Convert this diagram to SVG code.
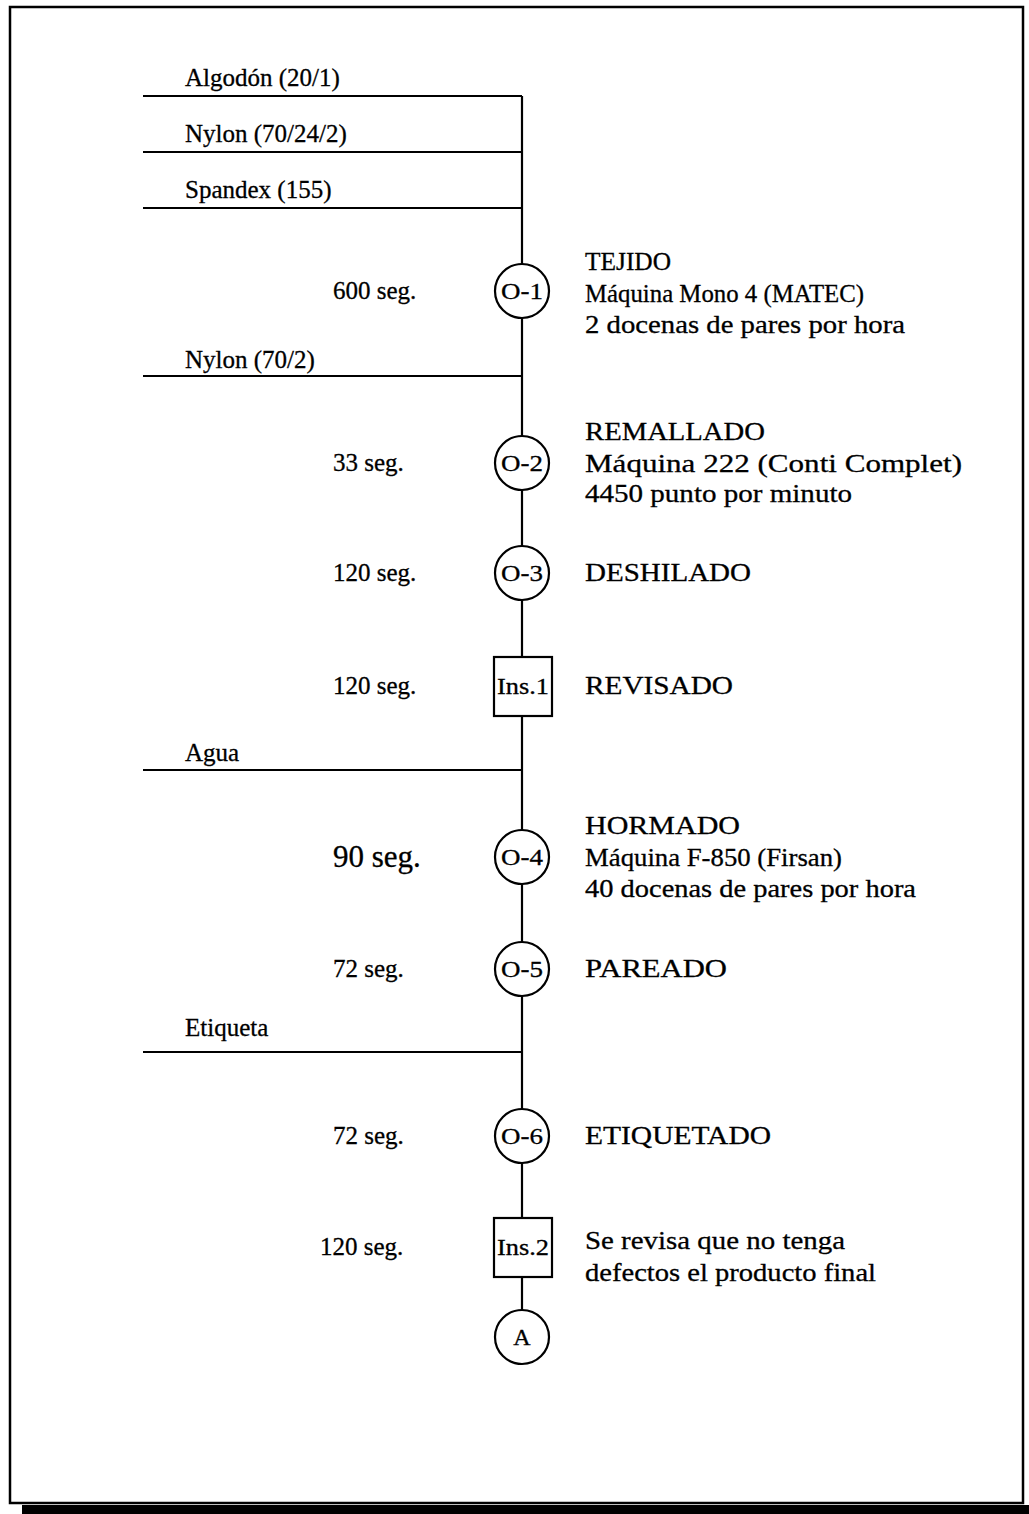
<svg xmlns="http://www.w3.org/2000/svg" width="1029" height="1514" viewBox="0 0 1029 1514">
<style>
text{font-family:"Liberation Serif","Times New Roman",serif;font-size:25px;fill:#000;stroke:#000;stroke-width:0.3}
.r{font-size:25.5px}
.ln{stroke:#000;stroke-width:2.2;fill:none}
.sym{stroke:#000;stroke-width:2.2;fill:#fff}
.c{text-anchor:middle;font-size:24px}
</style>
<rect x="0" y="0" width="1029" height="1514" fill="#fff"/>
<g id="frame">
<rect x="10" y="7" width="1013" height="1496" fill="none" stroke="#000" stroke-width="2.5"/>
<rect x="22" y="1505" width="1007" height="9" fill="#000"/>
</g>
<g id="connectors">
<line class="ln" x1="522" y1="96" x2="522" y2="1310"/>
<line class="ln" x1="143" y1="96" x2="522" y2="96"/>
<line class="ln" x1="143" y1="152" x2="522" y2="152"/>
<line class="ln" x1="143" y1="208" x2="522" y2="208"/>
<line class="ln" x1="143" y1="376" x2="522" y2="376"/>
<line class="ln" x1="143" y1="770" x2="522" y2="770"/>
<line class="ln" x1="143" y1="1052" x2="522" y2="1052"/>
</g>
<g id="inputs">
<text x="185" y="86">Algodón (20/1)</text>
<text x="185" y="142">Nylon (70/24/2)</text>
<text x="185" y="198">Spandex (155)</text>
<text x="185" y="368">Nylon (70/2)</text>
<text x="185" y="761">Agua</text>
<text x="185" y="1036">Etiqueta</text>
</g>
<g id="O-1">
<circle class="sym" cx="522" cy="291" r="27"/>
<text class="c" x="522" y="299" textLength="42" lengthAdjust="spacingAndGlyphs">O-1</text>
<text x="333" y="299">600 seg.</text>
<text class="r" x="585" y="270" textLength="86" lengthAdjust="spacingAndGlyphs">TEJIDO</text>
<text class="r" x="585" y="302" textLength="279" lengthAdjust="spacingAndGlyphs">Máquina Mono 4 (MATEC)</text>
<text class="r" x="585" y="333" textLength="320" lengthAdjust="spacingAndGlyphs">2 docenas de pares por hora</text>
</g>
<g id="O-2">
<circle class="sym" cx="522" cy="463" r="27"/>
<text class="c" x="522" y="471" textLength="42" lengthAdjust="spacingAndGlyphs">O-2</text>
<text x="333" y="471">33 seg.</text>
<text class="r" x="585" y="440" textLength="180" lengthAdjust="spacingAndGlyphs">REMALLADO</text>
<text class="r" x="585" y="472" textLength="377" lengthAdjust="spacingAndGlyphs">Máquina 222 (Conti Complet)</text>
<text class="r" x="585" y="502" textLength="267" lengthAdjust="spacingAndGlyphs">4450 punto por minuto</text>
</g>
<g id="O-3">
<circle class="sym" cx="522" cy="573" r="27"/>
<text class="c" x="522" y="581" textLength="42" lengthAdjust="spacingAndGlyphs">O-3</text>
<text x="333" y="581">120 seg.</text>
<text class="r" x="585" y="581" textLength="166" lengthAdjust="spacingAndGlyphs">DESHILADO</text>
</g>
<g id="Ins1">
<rect class="sym" x="494" y="657" width="58" height="59"/>
<text class="c" x="523" y="694" textLength="52" lengthAdjust="spacingAndGlyphs">Ins.1</text>
<text x="333" y="694">120 seg.</text>
<text class="r" x="585" y="694" textLength="148" lengthAdjust="spacingAndGlyphs">REVISADO</text>
</g>
<g id="O-4">
<circle class="sym" cx="522" cy="857" r="27"/>
<text class="c" x="522" y="865" textLength="42" lengthAdjust="spacingAndGlyphs">O-4</text>
<text x="333" y="867" style="font-size:31px">90 seg.</text>
<text class="r" x="585" y="834" textLength="155" lengthAdjust="spacingAndGlyphs">HORMADO</text>
<text class="r" x="585" y="866" textLength="257" lengthAdjust="spacingAndGlyphs">Máquina F-850 (Firsan)</text>
<text class="r" x="585" y="897" textLength="331" lengthAdjust="spacingAndGlyphs">40 docenas de pares por hora</text>
</g>
<g id="O-5">
<circle class="sym" cx="522" cy="969" r="27"/>
<text class="c" x="522" y="977" textLength="42" lengthAdjust="spacingAndGlyphs">O-5</text>
<text x="333" y="977">72 seg.</text>
<text class="r" x="585" y="977" textLength="142" lengthAdjust="spacingAndGlyphs">PAREADO</text>
</g>
<g id="O-6">
<circle class="sym" cx="522" cy="1136" r="27"/>
<text class="c" x="522" y="1144" textLength="42" lengthAdjust="spacingAndGlyphs">O-6</text>
<text x="333" y="1144">72 seg.</text>
<text class="r" x="585" y="1144" textLength="186" lengthAdjust="spacingAndGlyphs">ETIQUETADO</text>
</g>
<g id="Ins2">
<rect class="sym" x="494" y="1218" width="58" height="59"/>
<text class="c" x="523" y="1255" textLength="52" lengthAdjust="spacingAndGlyphs">Ins.2</text>
<text x="320" y="1255">120 seg.</text>
<text class="r" x="585" y="1249" textLength="260" lengthAdjust="spacingAndGlyphs">Se revisa que no tenga</text>
<text class="r" x="585" y="1281" textLength="291" lengthAdjust="spacingAndGlyphs">defectos el producto final</text>
</g>
<g id="A">
<circle class="sym" cx="522" cy="1337" r="27"/>
<text class="c" x="522" y="1345">A</text>
</g>
</svg>
